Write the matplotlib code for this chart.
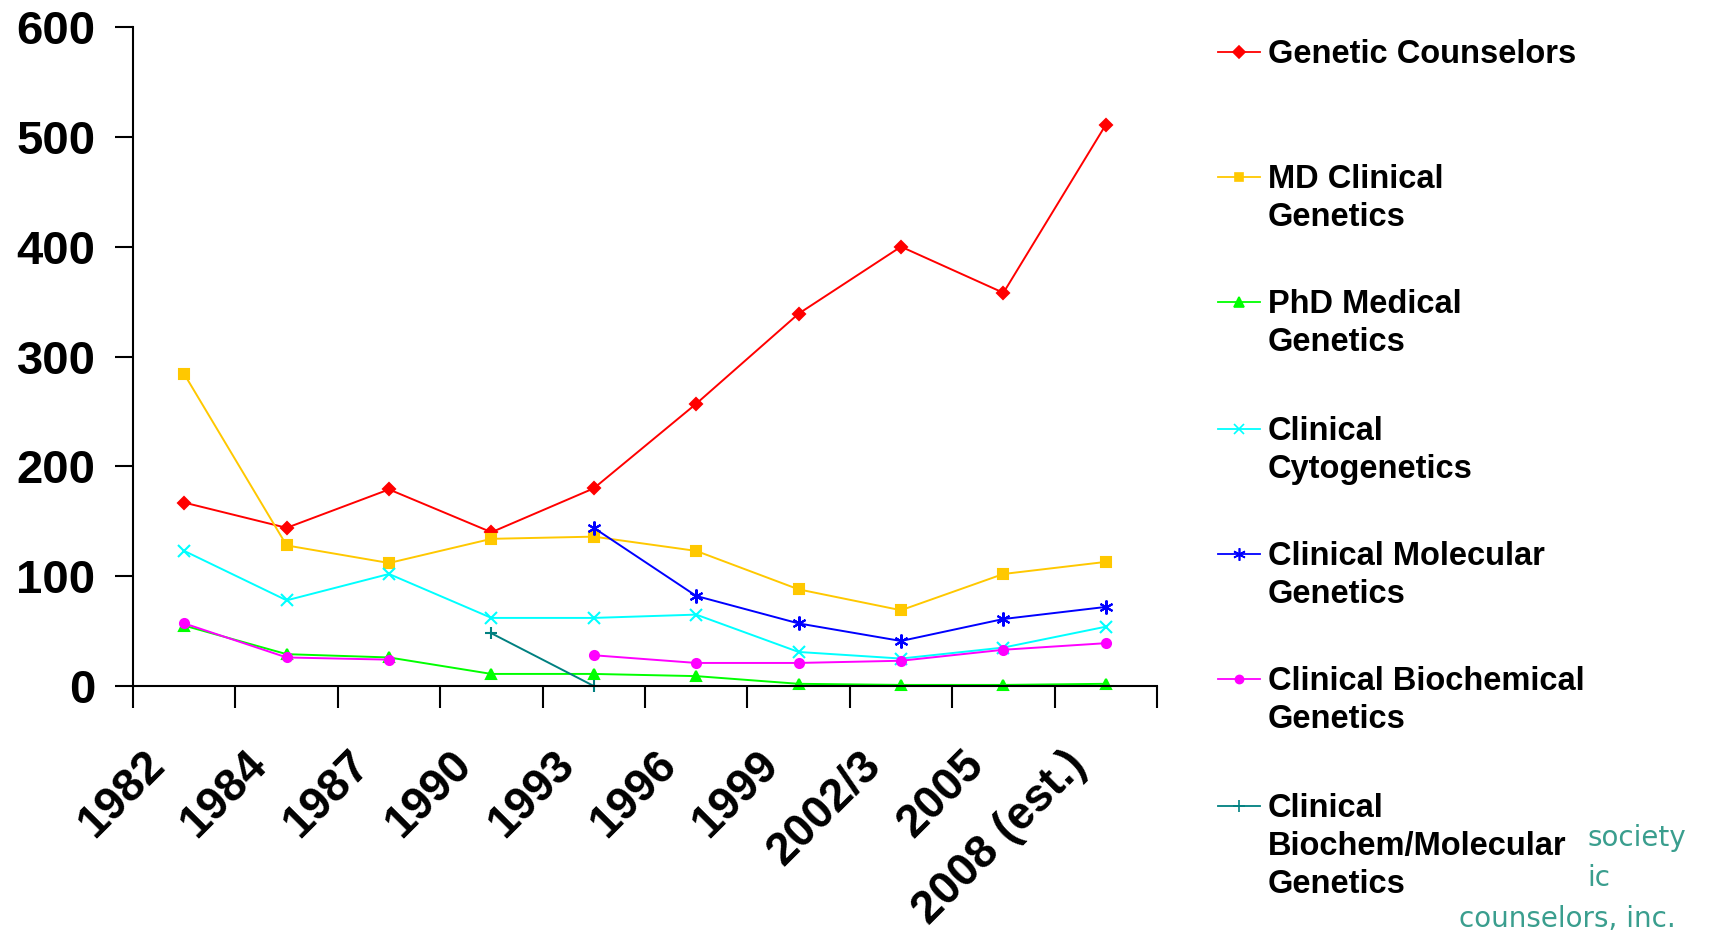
import numpy as np
import matplotlib
matplotlib.use("Agg")
from matplotlib import pyplot as plt
from matplotlib.lines import Line2D
from matplotlib.transforms import ScaledTranslation

plt.rcParams['font.family'] = ['Liberation Sans', 'DejaVu Sans']
plt.rcParams['font.weight'] = 'bold'

years = ['1982', '1984', '1987', '1990', '1993', '1996', '1999',
         '2002/3', '2005', '2008 (est.)']

genetic_counselors = [167, 144, 179, 140, 180, 257, 339, 400, 358, 511]
md_clinical = [284, 128, 112, 134, 136, 123, 88, 69, 102, 113]
phd_medical = [55, 29, 26, 11, 11, 9, 2, 1, 1, 2]
cytogenetics = [123, 78, 102, 62, 62, 65, 31, 25, 35, 54]
molecular = [None, None, None, None, 144, 82, 57, 41, 61, 72]
biochemical = [57, 26, 24, None, 28, 21, 21, 23, 33, 39]
biochem_molecular = [None, None, None, 48, 0, None, None, None, None, None]

asterisk = (6, 2, 0)
series = [
    ('Genetic Counselors', genetic_counselors, '#ff0000', 'D', 6.5),
    ('MD Clinical\nGenetics', md_clinical, '#ffc800', 's', 6.5),
    ('PhD Medical\nGenetics', phd_medical, '#00ff00', '^', 7.5),
    ('Clinical\nCytogenetics', cytogenetics, '#00ffff', 'x', 8),
    ('Clinical Molecular\nGenetics', molecular, '#0000ff', asterisk, 10),
    ('Clinical Biochemical\nGenetics', biochemical, '#ff00ff', 'o', 6.5),
    ('Clinical\nBiochem/Molecular\nGenetics', biochem_molecular, '#008080', '+', 9),
]


def main():
    fig = plt.figure(figsize=(17.1, 9.35), dpi=100)
    ax = fig.add_axes([0.0778, 0.2663, 0.5988, 0.7048])

    x = np.arange(len(years)) + 0.5
    for label, vals, color, marker, ms in series:
        y = np.array([np.nan if v is None else v for v in vals], dtype=float)
        ax.plot(x, y, color=color, marker=marker, markersize=ms, lw=1.4,
                markeredgewidth=1.5, clip_on=False)

    ax.set_xlim(0, len(years))
    ax.set_ylim(0, 600)
    ax.set_yticks(np.arange(0, 601, 100))
    ax.set_xticks(np.arange(0, len(years) + 1))
    ax.set_xticklabels([])
    ax.set_xticks(x, minor=True)
    ax.set_xticklabels(years, minor=True, rotation=45, ha='right', va='top',
                       rotation_mode='anchor', fontsize=33, fontweight='bold')
    ax.tick_params(axis='x', which='minor', length=0, pad=18)
    ax.tick_params(axis='x', which='major', length=16, width=1.5, direction='out')
    ax.tick_params(axis='y', length=13, width=1.5, direction='out', pad=14,
                   labelsize=34)
    for t in ax.get_yticklabels():
        t.set_fontweight('bold')

    # nudge the slanted year labels down and to the left
    shift = ScaledTranslation(-0.42, -0.32, fig.dpi_scale_trans)
    for t in ax.get_xticklabels(minor=True):
        t.set_transform(t.get_transform() + shift)

    for side in ('top', 'right'):
        ax.spines[side].set_visible(False)
    for side in ('left', 'bottom'):
        ax.spines[side].set_linewidth(1.5)

    # society logo fragments, partly behind the key
    logo_color = '#3a9e8e'
    fig.text(1587 / 1710, 1 - 838 / 935, 'society', color=logo_color,
             fontsize=20, family='DejaVu Sans', fontweight='normal',
             ha='left', va='center')
    fig.text(1587 / 1710, 1 - 878 / 935, 'ic', color=logo_color,
             fontsize=20, family='DejaVu Sans', fontweight='normal',
             ha='left', va='center')
    fig.text(1459 / 1710, 1 - 919 / 935, 'counselors, inc.', color=logo_color,
             fontsize=20, family='DejaVu Sans', fontweight='normal',
             ha='left', va='center')

    # key on the right: sample line with marker next to the first text line
    first_rows = [52, 177, 302, 429, 554, 679, 806]
    for (label, vals, color, marker, ms), ypx in zip(series, first_rows):
        yf = 1 - ypx / 935
        fig.add_artist(Line2D([1218 / 1710, 1260 / 1710], [yf, yf],
                              transform=fig.transFigure, color=color, lw=1.3))
        fig.add_artist(Line2D([1239 / 1710], [yf], transform=fig.transFigure,
                              color=color, marker=marker, markersize=ms * 0.9,
                              markeredgewidth=1.2))
        fig.text(1268 / 1710, 1 - (ypx - 13) / 935, label, fontsize=23.5,
                 fontweight='bold', ha='left', va='top', linespacing=1.3,
                 transform=fig.transFigure,
                 bbox=dict(facecolor='white', edgecolor='none', pad=0))

    fig.savefig('out.png', dpi=100)


if __name__ == '__main__':
    main()
